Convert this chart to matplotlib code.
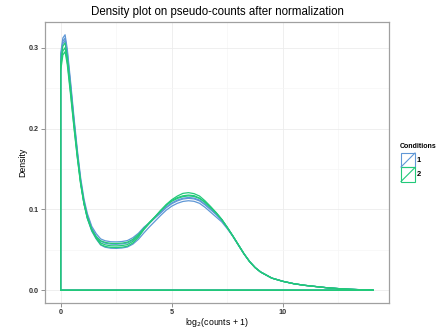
import matplotlib
matplotlib.use("Agg")
import matplotlib.pyplot as plt
import numpy as np

plt.rcParams["font.family"] = ["Liberation Sans", "DejaVu Sans"]

# log2(counts + 1) grid shared by all density curves
X = [0, 0.1, 0.2, 0.3, 0.45, 0.6, 0.75, 0.9, 1.05, 1.2, 1.4, 1.6, 1.8, 2.0, 2.25,
     2.5, 2.75, 3.0, 3.25, 3.5, 3.75, 4.0, 4.25, 4.5, 4.75, 5.0, 5.25, 5.5, 5.75,
     6.0, 6.25, 6.5, 6.75, 7.0, 7.25, 7.5, 7.75, 8.0, 8.25, 8.5, 8.75, 9.0, 9.5,
     10.0, 10.5, 11.0, 11.5, 12.0, 12.5, 13.0, 13.5, 14.07]

TAIL = [0.0560, 0.0450, 0.0355, 0.0280, 0.0225, 0.0150, 0.0110, 0.0080, 0.0060,
        0.0045, 0.0030, 0.0020, 0.0012, 0.0006, 0.0]

# condition 1 samples
B1 = [0.292, 0.312, 0.316, 0.298, 0.257, 0.214, 0.174, 0.139, 0.113, 0.095, 0.079,
      0.070, 0.0635, 0.0612, 0.0600, 0.0598, 0.0602, 0.0614, 0.0650, 0.0705,
      0.0780, 0.0835, 0.0895,
      0.0955, 0.1020, 0.1070, 0.1105, 0.1128, 0.1137, 0.1130, 0.1105, 0.1055, 0.0995, 0.0935,
      0.0865, 0.0770, 0.0670] + TAIL
B2 = [0.288, 0.308, 0.312, 0.294, 0.253, 0.210, 0.170, 0.134, 0.107, 0.089, 0.073,
      0.0635, 0.0560, 0.0532, 0.0520, 0.0518, 0.0522, 0.0534, 0.0570, 0.0630,
      0.0710, 0.0785, 0.0855,
      0.0925, 0.0990, 0.1040, 0.1075, 0.1098, 0.1107, 0.1100, 0.1075, 0.1025, 0.0965, 0.0905,
      0.0845, 0.0760, 0.0665] + [0.0555] + TAIL[1:]
B3 = [0.285, 0.305, 0.309, 0.291, 0.251, 0.209, 0.170, 0.136, 0.110, 0.093, 0.077,
      0.067, 0.0605, 0.0582, 0.0570, 0.0568, 0.0572, 0.0584, 0.0620, 0.0680,
      0.0760, 0.0830, 0.0900,
      0.0965, 0.1030, 0.1080, 0.1115, 0.1138, 0.1147, 0.1140, 0.1115, 0.1065, 0.1005, 0.0940,
      0.0870, 0.0775, 0.0670] + TAIL
# condition 2 samples
G1 = [0.282, 0.302, 0.306, 0.288, 0.249, 0.207, 0.168, 0.134, 0.109, 0.091, 0.075,
      0.065, 0.0585, 0.0562, 0.0550, 0.0548, 0.0552, 0.0564, 0.0605, 0.0670,
      0.0765, 0.0840, 0.0910,
      0.0985, 0.1060, 0.1120, 0.1165, 0.1198, 0.1207, 0.1195, 0.1165, 0.1105, 0.1035, 0.0960,
      0.0875, 0.0775, 0.0670] + TAIL
G2 = [0.276, 0.296, 0.300, 0.283, 0.244, 0.203, 0.165, 0.132, 0.107, 0.089, 0.074,
      0.064, 0.0565, 0.0542, 0.0530, 0.0528, 0.0532, 0.0544, 0.0585, 0.0655,
      0.0750, 0.0830, 0.0905,
      0.0985, 0.1055, 0.1110, 0.1145, 0.1168, 0.1177, 0.1170, 0.1140, 0.1090, 0.1025, 0.0955,
      0.0875, 0.0775, 0.0670] + TAIL
G3 = [0.271, 0.291, 0.295, 0.279, 0.241, 0.201, 0.164, 0.131, 0.107, 0.090, 0.075,
      0.066, 0.0612, 0.0592, 0.0580, 0.0578, 0.0582, 0.0594, 0.0630, 0.0690,
      0.0765, 0.0840, 0.0910,
      0.0985, 0.1050, 0.1100, 0.1135, 0.1158, 0.1167, 0.1160, 0.1135, 0.1085, 0.1020, 0.0955,
      0.0875, 0.0775, 0.0670] + TAIL

CONDITIONS = ["1", "2"]
SAMPLES = {"1": [B1, B2, B3], "2": [G1, G2, G3]}
COLORS = {"1": "#5f97d6", "2": "#22c97a"}

fig = plt.figure(figsize=(4.38, 3.31), dpi=100)
ax = fig.add_axes([45 / 438, 28 / 331, 344 / 438, 281 / 331])

x = np.asarray(X)
for cond in CONDITIONS:
    for ys in SAMPLES[cond]:
        assert len(ys) == len(X)
        y = np.asarray(ys)
        # closed density polygon, like geom_density(fill = NA)
        px = np.r_[x[0], x, x[-1], x[0]]
        py = np.r_[0, y, 0, 0]
        ax.plot(px, py, color=COLORS[cond], lw=0.9, solid_joinstyle="round")

ymax = max(max(s) for c in CONDITIONS for s in SAMPLES[c])
xr = x[-1] - x[0]
ax.set_xlim(x[0] - 0.05 * xr, x[-1] + 0.05 * xr)
ax.set_ylim(-0.05 * ymax, ymax * 1.05)

ax.set_xticks([0, 5, 10])
ax.set_xticks([2.5, 7.5, 12.5], minor=True)
ax.set_yticks([0.0, 0.1, 0.2, 0.3])
ax.set_yticks([0.05, 0.15, 0.25], minor=True)
ax.set_xticklabels(["0", "5", "10"])
ax.set_yticklabels(["0.0", "0.1", "0.2", "0.3"])
ax.grid(True, which="major", color="#ececec", lw=0.6)
ax.grid(True, which="minor", color="#f6f6f6", lw=0.5)
ax.set_axisbelow(True)
ax.tick_params(which="major", direction="out", length=3, width=0.6, color="#7f7f7f",
               labelsize=5.2, labelcolor="#333333", pad=1.5)
ax.tick_params(which="minor", length=0)
for lab in ax.get_xticklabels() + ax.get_yticklabels():
    lab.set_fontweight("bold")
for sp in ax.spines.values():
    sp.set_color("#a0a0a0")
    sp.set_linewidth(0.9)

ax.set_xlabel(r"log$_2$(counts + 1)", fontsize=6.3, labelpad=0)
ax.set_ylabel("Density", fontsize=6.3, labelpad=1)
ax.set_title("Density plot on pseudo-counts after normalization", fontsize=8.3, pad=5)

# legend drawn like ggplot's polygon keys
fig.text(400 / 438, 1 - 146 / 331, "Conditions", fontsize=5.0, fontweight="bold",
         va="center", ha="left")
for i, cond in enumerate(CONDITIONS):
    top = 153 + i * 14.5
    kx0, kx1 = 401 / 438, 415 / 438
    ky0, ky1 = 1 - (top + 14) / 331, 1 - top / 331
    fig.add_artist(plt.Rectangle((kx0, ky0), kx1 - kx0, ky1 - ky0, transform=fig.transFigure,
                                 fill=False, edgecolor=COLORS[cond], lw=0.8))
    fig.add_artist(plt.Line2D([kx0, kx1], [ky0, ky1], transform=fig.transFigure,
                              color=COLORS[cond], lw=0.8))
    fig.text(417 / 438, (ky0 + ky1) / 2, cond, fontsize=5.5, fontweight="bold",
             va="center", ha="left")

fig.savefig("out.png", dpi=100, facecolor="white")
